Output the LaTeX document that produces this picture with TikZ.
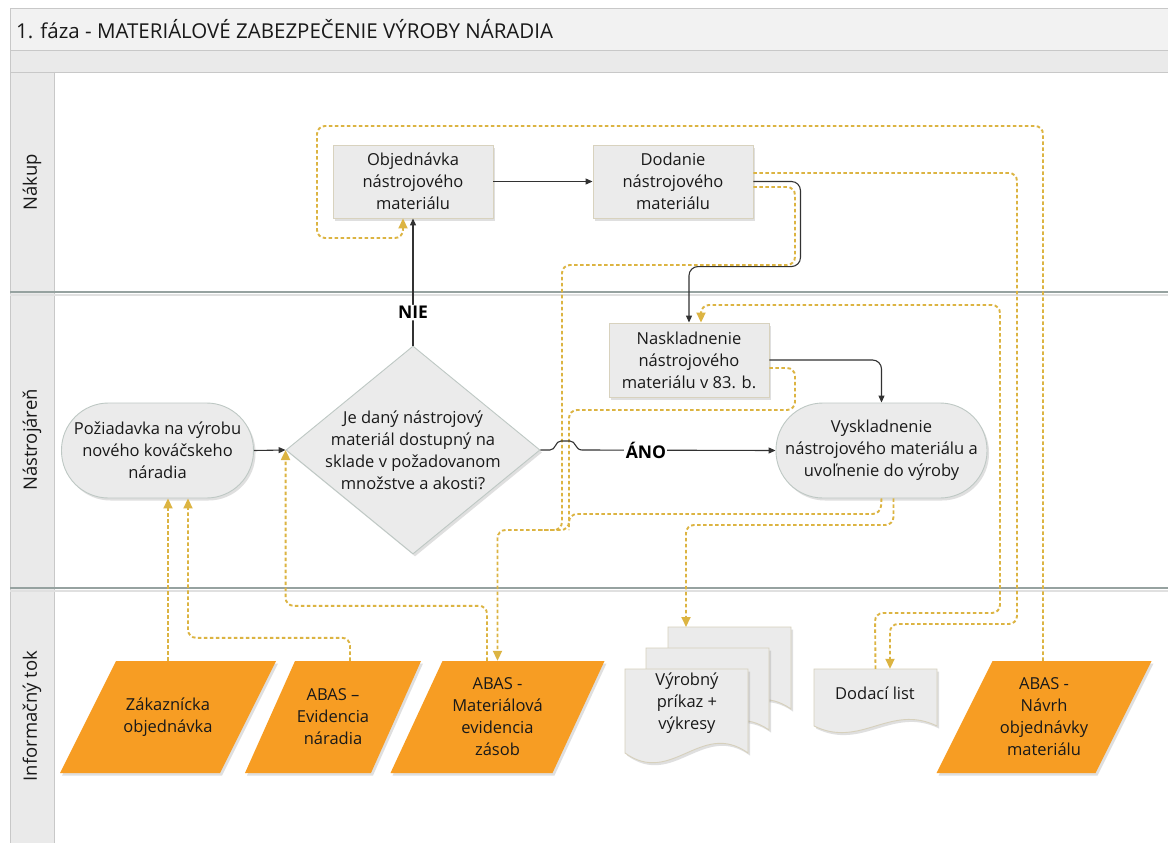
\documentclass[tikz,border=0pt]{standalone}
\usepackage{fontspec}
\setmainfont{Open Sans}
\usetikzlibrary{shadows,arrows.meta,calc,shapes.geometric}

\definecolor{boxfill}{RGB}{235,235,235}
\definecolor{boxline}{RGB}{216,210,190}
\definecolor{termline}{RGB}{190,200,196}
\definecolor{docline}{RGB}{214,208,188}
\definecolor{ordata}{RGB}{247,157,35}
\definecolor{gold}{RGB}{220,180,66}
\definecolor{flowc}{RGB}{50,50,50}
\definecolor{laneline}{RGB}{150,162,160}
\definecolor{frameline}{RGB}{200,200,200}
\definecolor{headfill}{RGB}{242,242,242}
\definecolor{bandfill}{RGB}{234,234,234}

% parallelogram data symbol: name, centre x, centre y, edge length, slant, text
\newcommand\paral[6]{%
  \pgfmathsetmacro\pL{#2-(#4+#5)/2}%
  \pgfmathsetmacro\pR{#2+(#4+#5)/2}%
  \path[datafill] (\pL,#3+56) -- (\pL+#4,#3+56) -- (\pR,#3-56) -- (\pR-#4,#3-56) -- cycle;
  \node[txt, minimum width=#4pt, minimum height=112pt] (#1) at (#2,#3) {#6};
}
% one document sheet with wavy lower edge: left, top, width, height
\newcommand\sheet[4]{%
  \pgfmathsetmacro\sR{#1+#3}%
  \pgfmathsetmacro\sB{#2+#4}%
  \pgfmathsetmacro\sD{0.4*#4}%
  \path[docfill] (#1,#2) -- (\sR,#2) -- (\sR,\sB)
    .. controls (#1+0.62*#3,\sB-\sD) and (#1+0.38*#3,\sB+\sD) .. (#1,\sB) -- cycle;
}

\begin{document}
\begin{tikzpicture}[x=1pt,y=-1pt,
  txt/.style={font=\fontsize{16.5}{22}\selectfont, align=center, inner sep=0pt, text=black!90},
  shade/.style={drop shadow={shadow xshift=2pt, shadow yshift=-2.5pt, opacity=0.25}},
  proc/.style={txt, rectangle, draw=boxline, fill=boxfill, line width=0.9pt,
    minimum width=160pt, minimum height=73pt, shade},
  term/.style={txt, rectangle, rounded corners=47pt, draw=termline, fill=boxfill,
    line width=0.9pt, minimum height=95pt, shade},
  decision/.style={diamond, draw=termline, fill=boxfill, line width=0.9pt,
    minimum width=254pt, minimum height=208pt, inner sep=0pt, shade},
  datafill/.style={fill=ordata, shade},
  docfill/.style={fill=boxfill, draw=docline, line width=0.9pt, shade},
  flow/.style={draw=flowc, line width=1.1pt, rounded corners=9pt, -{Triangle[length=7pt,width=6pt]}},
  info/.style={draw=gold, line width=1.9pt, dash pattern=on 3.5pt off 2.5pt, rounded corners=8pt},
  infoarrow/.style={info, -{Triangle[length=10pt,width=9pt,sep=0pt]}},
  flag/.style={font=\bfseries\fontsize{17.5}{20}\selectfont, fill=white, inner sep=1.5pt, text=black},
  lanelabel/.style={font=\fontsize{18.5}{22}\selectfont, rotate=90, inner sep=0pt, text=black!90},
]
\useasboundingbox (0,0) rectangle (1168,843);
\fill[white] (0,0) rectangle (1168,843);

% pool frame, title bar and lane header column
\fill[headfill] (10,8) rectangle (1180,50);
\fill[bandfill] (10,50) rectangle (1180,72);
\fill[bandfill] (10,72) rectangle (54,850);
\draw[frameline, line width=0.8pt] (10,850) -- (10,8) -- (1180,8);
\draw[frameline, line width=0.8pt] (10,50) -- (1180,50);
\draw[frameline, line width=0.8pt] (10,72) -- (1180,72);
\draw[frameline, line width=0.8pt] (54,72) -- (54,850);
\node[anchor=west, font=\fontsize{20.5}{24}\selectfont, inner sep=0pt, text=black!90] (title) at (16,29)
  {1. fáza - MATERIÁLOVÉ ZABEZPEČENIE VÝROBY NÁRADIA};

% lane separators
\foreach \ly in {292,588} {
  \draw[black!12, line width=2pt] (10,\ly+2.5) -- (1180,\ly+2.5);
  \draw[laneline, line width=1.6pt] (10,\ly) -- (1180,\ly);
}
\node[lanelabel] (laneA) at (32,182) {Nákup};
\node[lanelabel] (laneB) at (32,440) {Nástrojáreň};
\node[lanelabel] (laneC) at (32,716) {Informačný tok};

% process steps
\node[proc] (obj) at (413,181.5) {Objednávka\\nástrojového\\materiálu};
\node[proc] (dod) at (673,181.5) {Dodanie\\nástrojového\\materiálu};
\node[proc, minimum height=74pt] (nask) at (689,360) {Naskladnenie\\nástrojového\\materiálu v 83. b.};
\node[term, minimum width=211pt] (vysk) at (881.5,450.5) {Vyskladnenie\\nástrojového materiálu a\\uvoľnenie do výroby};
\node[term, minimum width=192pt] (poz) at (157.5,450.5) {Požiadavka na výrobu\\nového kováčskeho\\náradia};
\node[decision] (dec) at (413,450) {};
\node[txt] (dectext) at (413,450) {Je daný nástrojový\\materiál dostupný na\\sklade v požadovanom\\množstve a akosti?};

% data symbols
\paral{zak}{168}{717}{160}{56}{Zákaznícka\\objednávka}
\paral{abasA}{333}{717}{126}{50}{ABAS –\\Evidencia\\náradia}
\paral{abasB}{497.5}{717}{162}{52}{ABAS -\\Materiálová\\evidencia\\zásob}
\paral{abasC}{1044}{717}{159}{56}{ABAS -\\Návrh\\objednávky\\materiálu}

% documents
\sheet{668}{627}{123}{82}
\sheet{646}{648}{123}{82}
\sheet{625}{669}{123}{84}
\node[txt] (vp) at (687,703) {Výrobný\\príkaz +\\výkresy};
\coordinate (vptop) at (686,627);
\sheet{814}{669}{123}{57}
\node[minimum width=123pt, minimum height=57pt, inner sep=0pt] (dl) at (875.5,697.5) {};
\node[txt] (dltext) at (875,693) {Dodací list};

% information flows
\draw[infoarrow] (zak.north) -- (zak.north |- poz.south);
\draw[infoarrow] ($(abasA.north)+(17,0)$) -- ++(0,-23) -| ($(poz.south)+(30.5,0)$);
\draw[infoarrow] ($(abasB.north)+(-10.5,0)$) -- ++(0,-55) -| (dec.west);
\draw[infoarrow] ($(dod.east)+(0,5.5)$) -- (795,187) -- (795,265) -- (562,265) -- (562,530)
  -- (abasB.north |- 0,530) -- (abasB.north);
\draw[info] ($(nask.east)+(0,8)$) -- (795,368) -- (795,410) -- (569,410) -- (569,530) -- (540,530);
\draw[info] (vysk.south) -- (880.5,514) -- (569,514) -- (569,530);
\draw[infoarrow] ($(vysk.south)+(12,0)$) -- (893.5,525) -- (686,525) -- (vptop);
\draw[infoarrow] ($(dod.east)+(0,-8.5)$) -- (1017,173) -- (1017,624) -- (890,624) -- ($(dl.north)+(14.5,0)$);
\draw[infoarrow] (dl.north) -- (875,613) -- (1000,613) -- (1000,305) -- (701,305) -- ($(nask.north)+(12,0)$);
\draw[infoarrow] ($(abasC.north)+(-1,0)$) -- (1043,126) -- (317,126) -- (317,238) -- (403,238)
  -- ($(obj.south)+(-10,0)$);

% control flow
\draw[flow] (poz.east) -- (dec.west);
\draw[flow] (dec.north) -- node[flag, pos=0.26] (nie) {NIE} (obj.south);
\draw[flow] (obj.east) -- (dod.west);
\draw[flow] (dod.east) -- ++(47,0) |- ($(nask.north)+(0,-56)$) -- (nask.north);
\draw[flow] (nask.east) -| (vysk.north);
\draw[flow, rounded corners=0pt] (dec.east) -- (550,450) .. controls (556,450) and (555,441) .. (561,441)
  -- (570,441) .. controls (576,441) and (575,450) .. (582,450)
  -- node[flag, pos=0.33] (ano) {ÁNO} (vysk.west);
\end{tikzpicture}
\end{document}
